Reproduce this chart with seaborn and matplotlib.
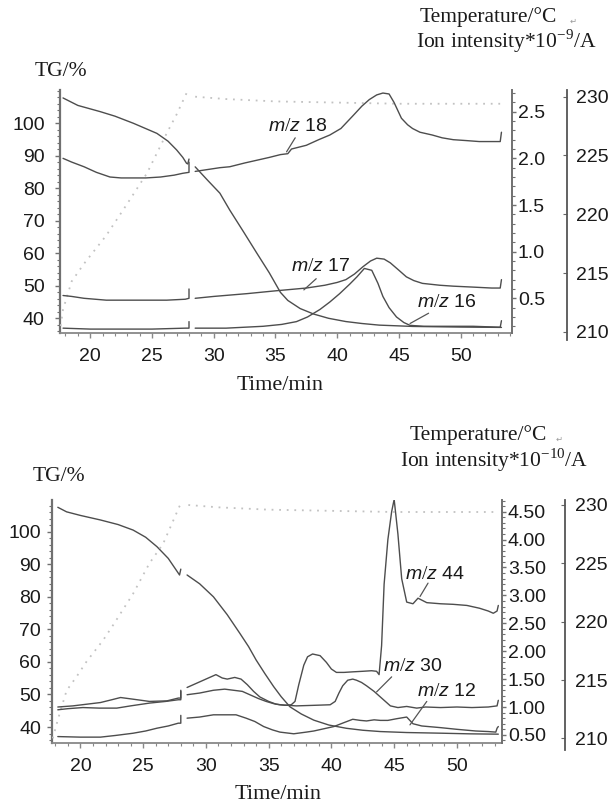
import numpy as np
import pandas as pd
import matplotlib
matplotlib.use("Agg")
import matplotlib.pyplot as plt
import seaborn as sns
from matplotlib.ticker import MultipleLocator, FormatStrFormatter

sns.set_theme(style="white")
plt.rcParams["font.family"] = ["Liberation Sans", "DejaVu Sans"]
plt.rcParams["mathtext.fontset"] = "custom"
plt.rcParams["mathtext.rm"] = "Liberation Serif"
plt.rcParams["mathtext.it"] = "Liberation Sans:italic"
plt.rcParams["mathtext.bf"] = "Liberation Sans:bold"

nan = np.nan

# ---------------- data: top panel (m/z 18, 17, 16) ----------------
top_tg_t = [17.8, 19.0, 20.8, 22.0, 23.5, 25.4, 26.3, 27.0, 27.5, 27.8,
            27.9, 28.0, nan, 28.5, 29.5, 30.5, 31.3, 32.4, 33.5, 34.5,
            35.4, 36.0, 37.0, 38.1, 39.3, 40.7, 42.0, 43.4, 46.1, 50.0,
            53.3]
top_tg = [107.8, 105.5, 103.6, 102.2, 100.0, 96.9, 94.5, 91.8, 89.5, 87.7,
          87.5, 89.0, nan, 86.6, 82.5, 78.5, 73.3, 66.7, 60.0, 54.0,
          48.0, 45.5, 43.0, 41.3, 40.0, 39.0, 38.4, 37.9, 37.5, 37.3,
          37.2]

mz18_t = [17.8, 18.5, 19.5, 20.5, 21.6, 22.5, 23.5, 24.5, 25.7, 26.8,
          27.5, 28.0, 28.0, nan, 28.5, 29.5, 30.5, 31.3, 32.5, 33.5,
          34.5, 35.4, 36.0, 36.3, 37.5, 38.5, 39.4, 40.3, 41.3, 42.0,
          42.6, 43.2, 43.7, 44.2, 44.6, 45.2, 45.7, 46.1, 46.7, 47.7,
          48.5, 49.4, 50.5, 51.5, 52.5, 53.2, 53.3]
mz18 = [2.00, 1.96, 1.91, 1.85, 1.80, 1.79, 1.79, 1.79, 1.80, 1.82,
        1.84, 1.85, 1.96, nan, 1.86, 1.88, 1.90, 1.91, 1.95, 1.98,
        2.01, 2.04, 2.05, 2.10, 2.14, 2.20, 2.25, 2.32, 2.46, 2.56,
        2.63, 2.68, 2.70, 2.69, 2.60, 2.43, 2.36, 2.32, 2.28, 2.25,
        2.22, 2.20, 2.19, 2.18, 2.18, 2.18, 2.28]

mz17_t = [17.8, 18.5, 19.5, 21.3, 23.0, 24.5, 26.2, 27.7, 28.0, 28.0,
          nan, 28.5, 30.0, 32.7, 35.0, 37.5, 39.0, 40.0, 40.7, 41.4,
          42.1, 42.7, 43.2, 43.8, 44.3, 45.0, 45.6, 46.2, 46.9, 48.3,
          49.4, 51.0, 52.5, 53.2, 53.3]
mz17 = [0.53, 0.52, 0.50, 0.48, 0.48, 0.48, 0.48, 0.49, 0.50, 0.60,
        nan, 0.50, 0.52, 0.55, 0.58, 0.61, 0.64, 0.67, 0.70, 0.76,
        0.84, 0.90, 0.93, 0.92, 0.88, 0.80, 0.73, 0.69, 0.66, 0.64,
        0.63, 0.62, 0.61, 0.61, 0.70]

mz16_t = [17.8, 20.0, 22.5, 25.0, 27.7, 28.0, 28.0, nan, 28.5, 31.0,
          34.0, 35.5, 36.7, 37.6, 38.6, 39.4, 40.2, 41.0, 41.6, 42.2,
          42.8, 43.3, 43.7, 44.2, 44.8, 45.4, 45.9, 47.0, 49.0, 51.0,
          53.2, 53.3]
mz16 = [0.18, 0.17, 0.17, 0.17, 0.18, 0.18, 0.25, nan, 0.18, 0.18,
        0.20, 0.22, 0.25, 0.30, 0.38, 0.46, 0.55, 0.65, 0.73, 0.82,
        0.80, 0.66, 0.52, 0.40, 0.30, 0.24, 0.21, 0.20, 0.20, 0.20,
        0.19, 0.26]

top_temp_t = [17.6, 17.8, 18.5, 19.5, 21.3, 23.0, 24.6, 26.2, 27.0, 27.8,
              28.0, nan, 28.5, 31.0, 35.0, 40.0, 45.0, 50.0, 53.2]
top_temp = [210.5, 211.9, 214.3, 215.8, 218.2, 220.9, 223.5, 226.9, 228.5, 230.3,
            230.5, nan, 230.0, 229.8, 229.6, 229.5, 229.4, 229.4, 229.4]

# ---------------- data: bottom panel (m/z 44, 30, 12) ----------------
bot_tg_t = [18.2, 18.9, 20.0, 21.6, 23.0, 24.2, 25.2, 26.1, 27.0, 27.9,
            28.0, nan, 28.5, 29.5, 30.6, 31.7, 32.7, 33.4, 34.0, 34.7,
            35.4, 36.0, 36.7, 37.6, 38.6, 39.8, 41.2, 42.5, 43.9, 46.0,
            48.7, 51.0, 53.3]
bot_tg = [107.5, 106.1, 105.0, 103.6, 102.2, 100.5, 98.3, 95.4, 91.8, 86.7,
          88.5, nan, 86.7, 84.0, 80.0, 74.5, 68.8, 64.7, 60.6, 56.4,
          52.4, 49.3, 46.2, 44.0, 42.1, 40.6, 39.6, 39.0, 38.6, 38.3,
          38.1, 37.9, 37.8]

mz44_t = [18.2, 19.4, 20.5, 21.6, 22.5, 23.2, 24.2, 25.5, 26.9, 27.8,
          28.0, 28.0, nan, 28.5, 29.5, 30.2, 30.8, 31.3, 31.7, 32.3,
          32.8, 33.3, 33.8, 34.3, 35.0, 35.6, 36.3, 36.8, 37.1, 37.4,
          37.8, 38.1, 38.5, 39.1, 39.6, 40.0, 40.4, 41.0, 41.7, 42.5,
          43.2, 43.6, 43.8, 44.0, 44.2, 44.5, 44.8, 45.0, 45.3, 45.6,
          46.0, 46.5, 46.9, 47.6, 48.7, 49.7, 50.8, 51.8, 52.5, 52.9,
          53.2, 53.3]
mz44 = [1.00, 1.02, 1.05, 1.08, 1.13, 1.17, 1.14, 1.10, 1.11, 1.16,
        1.16, 1.30, nan, 1.35, 1.45, 1.52, 1.58, 1.52, 1.50, 1.53,
        1.50, 1.40, 1.28, 1.18, 1.10, 1.05, 1.03, 1.04, 1.10, 1.40,
        1.75, 1.90, 1.95, 1.92, 1.80, 1.68, 1.62, 1.62, 1.63, 1.64,
        1.65, 1.64, 1.58, 2.10, 3.20, 4.00, 4.50, 4.72, 4.10, 3.30,
        2.88, 2.85, 2.95, 2.87, 2.85, 2.84, 2.82, 2.77, 2.72, 2.68,
        2.72, 2.82]

mz30_t = [18.2, 19.0, 20.2, 21.5, 22.9, 24.0, 25.5, 26.8, 27.8, 28.0,
          28.0, nan, 28.5, 29.5, 30.6, 31.5, 32.2, 32.9, 33.5, 34.2,
          34.8, 35.4, 35.9, 37.2, 38.6, 39.9, 40.3, 40.6, 40.9, 41.3,
          41.7, 42.0, 42.4, 42.8, 43.4, 43.9, 44.4, 44.7, 45.3, 46.0,
          46.8, 47.5, 48.7, 50.0, 51.2, 52.5, 53.2, 53.3]
mz30 = [0.95, 0.97, 0.99, 0.98, 0.98, 1.02, 1.07, 1.10, 1.13, 1.13,
        1.28, nan, 1.22, 1.25, 1.30, 1.32, 1.30, 1.28, 1.22, 1.15,
        1.10, 1.06, 1.04, 1.02, 1.03, 1.04, 1.10, 1.25, 1.38, 1.48,
        1.50, 1.48, 1.44, 1.38, 1.28, 1.18, 1.08, 1.02, 0.99, 1.01,
        0.98, 1.00, 0.99, 1.00, 0.99, 1.00, 1.02, 1.12]

mz12_t = [18.2, 20.0, 21.6, 22.8, 24.2, 25.2, 26.1, 27.0, 27.8, 28.0,
          28.0, nan, 28.5, 29.5, 30.6, 31.5, 32.4, 33.2, 33.9, 34.6,
          35.3, 35.9, 37.0, 38.0, 38.6, 39.4, 40.2, 41.0, 41.7, 42.3,
          42.8, 43.4, 43.9, 44.5, 45.2, 46.0, 46.5, 47.2, 48.7, 50.0,
          51.5, 52.5, 53.1, 53.2, 53.3]
mz12 = [0.47, 0.46, 0.46, 0.49, 0.53, 0.57, 0.62, 0.66, 0.71, 0.71,
        0.85, nan, 0.80, 0.82, 0.86, 0.86, 0.86, 0.80, 0.74, 0.65,
        0.59, 0.55, 0.52, 0.55, 0.57, 0.61, 0.65, 0.72, 0.78, 0.76,
        0.75, 0.77, 0.76, 0.76, 0.79, 0.82, 0.70, 0.66, 0.63, 0.60,
        0.57, 0.56, 0.55, 0.62, 0.65]

bot_temp_t = [17.8, 18.2, 18.9, 19.7, 20.5, 21.8, 22.6, 24.2, 25.5, 26.6,
              27.9, 28.0, nan, 28.6, 31.0, 35.0, 40.0, 45.0, 50.0, 53.2]
bot_temp = [210.0, 211.6, 214.1, 215.3, 216.6, 218.4, 219.7, 222.4, 225.0, 226.7,
            229.9, 230.1, nan, 230.0, 229.8, 229.6, 229.5, 229.4, 229.4, 229.4]

tg_ticks = [40, 50, 60, 70, 80, 90, 100]
x_ticks = [20, 25, 30, 35, 40, 45, 50]
temp_ticks = [210, 215, 220, 225, 230]
top_ion_ticks = [0.5, 1.0, 1.5, 2.0, 2.5]
bot_ion_ticks = [0.5, 1.0, 1.5, 2.0, 2.5, 3.0, 3.5, 4.0, 4.5]

top_labels = ["18", "17", "16"]
bot_labels = ["44", "30", "12"]

# ---------------- styling ----------------
W, H = 614, 805
LINE = "#4d4d4d"
TEMP = "#c2c2c2"
SPINE = "#707070"
TXT = "#1a1a1a"
SERIF = ["Liberation Serif", "DejaVu Serif"]
TICK_FS = 14
LAB_FS = 15.5

fig = plt.figure(figsize=(W / 100, H / 100), dpi=100)


def rect(l, t, r, b):
    return [l / W, 1 - b / H, (r - l) / W, (b - t) / H]


def curve(ax, t, v, color=LINE, ls="-", lw=1.0):
    t = np.asarray(t, float)
    v = np.asarray(v, float)
    assert len(t) == len(v), (len(t), len(v))
    seg = np.cumsum(np.isnan(v) | np.isnan(t))
    df = pd.DataFrame({"t": t, "v": v, "seg": seg}).dropna()
    for _, g in df.groupby("seg"):
        sns.lineplot(data=g, x="t", y="v", ax=ax, sort=False, estimator=None,
                     color=color, linestyle=ls, lw=lw, legend=False)


def panel(box, temp_x, temp_bottom, xmap, tgmap, ionmap, tmap,
          tg_t, tg, ion_series, temp_t, temp, ion_ticks, ion_fmt,
          notes, tg_pad):
    l, t, r, b = box
    ax = fig.add_axes(rect(l, t, r, b))
    ax.set_xlim(xmap(l), xmap(r))
    ax.set_ylim(tgmap(b), tgmap(t))
    ax3 = ax.twinx()
    ax3.set_ylim(tmap(b), tmap(t))
    ax2 = ax.twinx()
    ax2.set_ylim(ionmap(b), ionmap(t))

    curve(ax3, temp_t, temp, color=TEMP, ls=(0, (1, 3.2)), lw=1.3)
    curve(ax, tg_t, tg)
    for tt, vv in ion_series:
        curve(ax2, tt, vv)

    for a in (ax, ax2, ax3):
        a.set_xlabel("")
        a.set_ylabel("")
        a.grid(False)
        for s in a.spines.values():
            s.set_visible(False)
    ax.patch.set_visible(False)

    # TG axis (left) and time axis (bottom)
    ax.spines["left"].set_visible(True)
    ax.spines["left"].set_color(SPINE)
    ax.spines["left"].set_linewidth(1.6)
    ax.spines["bottom"].set_visible(True)
    ax.spines["bottom"].set_color("#888888")
    ax.spines["bottom"].set_linewidth(1.3)
    ax.set_yticks(tg_ticks)
    ax.yaxis.set_minor_locator(MultipleLocator(2))
    ax.set_xticks(x_ticks)
    ax.xaxis.set_minor_locator(MultipleLocator(1))
    ax.tick_params(axis="y", which="both", left=True, right=False, direction="out",
                   color=SPINE, labelsize=TICK_FS, labelcolor=TXT, pad=tg_pad)
    ax.tick_params(axis="y", which="major", length=3.5, width=1.0)
    ax.tick_params(axis="y", which="minor", length=2, width=0.8)
    ax.tick_params(axis="x", which="both", bottom=True, top=False, direction="out",
                   color="#888888", labelsize=TICK_FS, labelcolor=TXT, pad=7.5)
    ax.tick_params(axis="x", which="major", length=3.5, width=1.0)
    ax.tick_params(axis="x", which="minor", length=2, width=0.8)

    # ion intensity axis (right)
    ax2.spines["right"].set_visible(True)
    ax2.spines["right"].set_color(SPINE)
    ax2.spines["right"].set_linewidth(1.4)
    ax2.set_yticks(ion_ticks)
    ax2.yaxis.set_major_formatter(FormatStrFormatter(ion_fmt))
    ax2.yaxis.set_minor_locator(MultipleLocator(0.1))
    ax2.tick_params(axis="y", which="both", right=True, left=False, labelright=True,
                    labelleft=False, direction="out", color=SPINE,
                    labelsize=TICK_FS, labelcolor=TXT, pad=1.5)
    ax2.tick_params(axis="y", which="major", length=3, width=1.0)
    ax2.tick_params(axis="y", which="minor", length=2, width=0.8)
    ax3.set_yticks([])

    # temperature axis: separate spine further right
    axT = fig.add_axes(rect(temp_x - 1, t, temp_x, temp_bottom))
    axT.patch.set_visible(False)
    axT.set_ylim(tmap(temp_bottom), tmap(t))
    axT.set_xticks([])
    for s in axT.spines.values():
        s.set_visible(False)
    axT.spines["right"].set_visible(True)
    axT.spines["right"].set_color("#555555")
    axT.spines["right"].set_linewidth(1.3)
    axT.yaxis.tick_right()
    axT.set_yticks(temp_ticks)
    axT.tick_params(axis="y", which="major", direction="in", length=3, width=0.8,
                    color="#666666", labelsize=TICK_FS, labelcolor=TXT, pad=7)

    # m/z labels with leader lines
    for label, (tx, ty), (x0, y0), (x1, y1) in notes:
        ax2.text(tx, ty, r"$\mathit{m/z}$ " + label, ha="center", va="center",
                 fontsize=14, color=TXT)
        ax2.plot([x0, x1], [y0, y1], color="#555555", lw=0.9)


# ---------------- top panel ----------------
top_notes = list(zip(top_labels,
                     [(36.8, 2.34), (38.7, 0.84), (48.9, 0.45)],
                     [(36.6, 2.22), (38.3, 0.71), (47.4, 0.34)],
                     [(35.9, 2.07), (37.3, 0.59), (45.9, 0.23)]))
panel(box=(60, 90, 511.7, 333), temp_x=566.7, temp_bottom=340,
      xmap=lambda p: 20 + (p - 90.2) / 12.35,
      tgmap=lambda p: 100 - (p - 123.3) / 3.25,
      ionmap=lambda p: 2.5 - (p - 111.7) / 93.3,
      tmap=lambda p: 230 - (p - 96.7) / 11.76,
      tg_t=top_tg_t, tg=top_tg,
      ion_series=[(mz18_t, mz18), (mz17_t, mz17), (mz16_t, mz16)],
      temp_t=top_temp_t, temp=top_temp,
      ion_ticks=top_ion_ticks, ion_fmt="%.1f", notes=top_notes, tg_pad=7.5)

# ---------------- bottom panel ----------------
bot_notes = list(zip(bot_labels,
                     [(48.26, 3.37), (46.46, 1.72), (49.2, 1.27)],
                     [(47.7, 3.22), (44.8, 1.54), (47.6, 1.10)],
                     [(47.06, 2.98), (43.6, 1.27), (46.26, 0.68)]))
panel(box=(52, 500, 501.7, 743), temp_x=565, temp_bottom=750,
      xmap=lambda p: 20 + (p - 80.4) / 12.55,
      tgmap=lambda p: 100 - (p - 531.7) / 3.255,
      ionmap=lambda p: 4.5 - (p - 511.7) / 55.8,
      tmap=lambda p: 230 - (p - 505) / 11.67,
      tg_t=bot_tg_t, tg=bot_tg,
      ion_series=[(mz44_t, mz44), (mz30_t, mz30), (mz12_t, mz12)],
      temp_t=bot_temp_t, temp=bot_temp,
      ion_ticks=bot_ion_ticks, ion_fmt="%.2f", notes=bot_notes, tg_pad=4.5)


def ftext(px, py, s, **kw):
    fig.text(px / W, 1 - py / H, s, **kw)


# headers / axis titles
ftext(420, 17, "Temperature/°C", ha="left", va="center", fontsize=LAB_FS, family=SERIF, color=TXT)
ftext(570, 21, "↵", ha="left", va="center", fontsize=6, family=["DejaVu Sans"], color="#9a9a9a")
ftext(416, 41, r"Ion intensity*10$^{-9}$/A", ha="left", va="center", fontsize=LAB_FS, family=SERIF, color=TXT)
ftext(35, 72, "TG/%", ha="left", va="center", fontsize=LAB_FS, family=SERIF, color=TXT)
ftext(280, 385, "Time/min", ha="center", va="center", fontsize=LAB_FS + 0.5, family=SERIF, color=TXT)

ftext(410, 435, "Temperature/°C", ha="left", va="center", fontsize=LAB_FS, family=SERIF, color=TXT)
ftext(556, 439, "↵", ha="left", va="center", fontsize=6, family=["DejaVu Sans"], color="#9a9a9a")
ftext(400, 460, r"Ion intensity*10$^{-10}$/A", ha="left", va="center", fontsize=LAB_FS, family=SERIF, color=TXT)
ftext(33, 476, "TG/%", ha="left", va="center", fontsize=LAB_FS, family=SERIF, color=TXT)
ftext(278, 794, "Time/min", ha="center", va="center", fontsize=LAB_FS + 0.5, family=SERIF, color=TXT)

fig.savefig("out.png", dpi=100)
